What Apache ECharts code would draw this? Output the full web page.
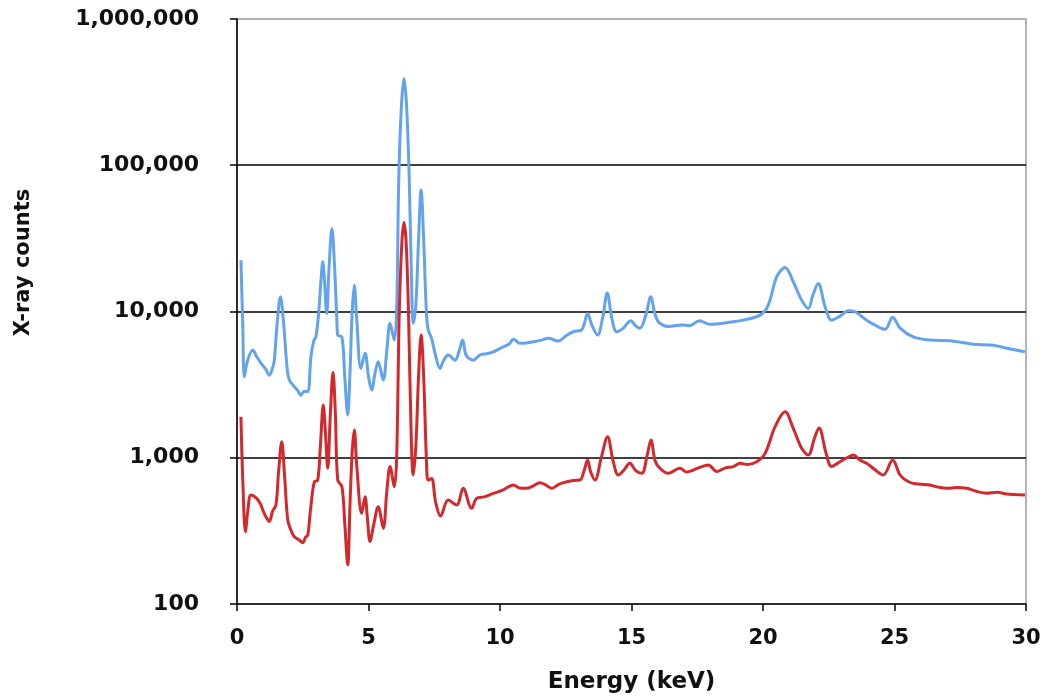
<!DOCTYPE html>
<html>
<head>
<meta charset="utf-8">
<script src="https://cdn.jsdelivr.net/npm/echarts@6/dist/echarts.min.js"></script>
<style>
html,body{margin:0;padding:0;background:#fff;}
#chart{width:1047px;height:700px;}
</style>
</head>
<body>
<div id="chart"></div>
<script>
// Energy (keV) and counts, upper (blue) spectrum
const energyBlue = [0.15,0.22,0.28,0.4,0.6,0.75,0.91,1.1,1.23,1.35,1.42,1.52,1.65,1.78,1.9,1.99,2.18,2.3,2.43,2.55,2.69,2.81,2.92,3.0,3.1,3.2,3.26,3.33,3.41,3.5,3.61,3.7,3.8,3.83,3.99,4.1,4.21,4.3,4.38,4.46,4.55,4.71,4.87,5.0,5.12,5.25,5.37,5.56,5.7,5.82,5.98,6.07,6.15,6.25,6.35,6.45,6.55,6.64,6.7,6.8,6.9,7.0,7.1,7.2,7.27,7.4,7.55,7.72,7.85,8.03,8.29,8.45,8.58,8.72,8.99,9.24,9.5,9.75,10.13,10.35,10.51,10.76,11.0,11.27,11.55,11.84,12.22,12.5,12.79,13.1,13.2,13.33,13.5,13.71,13.9,14.08,14.25,14.44,14.69,14.97,15.15,15.32,15.55,15.73,15.9,16.05,16.4,16.91,17.22,17.58,17.98,18.62,19.25,19.89,20.2,20.52,20.84,21.15,21.47,21.72,21.9,22.1,22.36,22.61,22.93,23.25,23.5,23.94,24.3,24.64,24.93,25.21,25.71,26.35,27.11,28.0,28.76,29.27,29.96];
const countsBlue = [22400,8000,3580,4600,5450,4900,4440,4000,3670,4100,4650,8000,12600,8000,4200,3400,3060,2900,2680,2850,2830,4900,6300,6710,9500,17000,21900,16000,9700,20000,37000,22000,8500,6900,6700,3500,1960,4000,10000,15100,9000,4080,5180,3600,2900,3800,4530,3400,5500,8300,6380,10000,80000,250000,392000,250000,80000,15000,8300,11000,30000,67600,30000,10000,7470,6550,5000,4080,4600,5040,4650,5400,6380,5000,4650,5040,5150,5300,5740,6000,6450,6060,6100,6210,6350,6550,6280,6800,7270,7470,8200,9700,8000,6900,9000,13400,9000,7270,7700,8650,8000,7680,9500,12600,9500,8390,7890,8080,8000,8650,8170,8390,8730,9440,11060,17260,20000,15970,11960,10500,13000,15540,10790,8730,9300,10120,9960,8730,8000,7550,9120,7700,6710,6380,6310,5980,5880,5600,5300];

// Lower (red) spectrum
const energyRed = [0.15,0.22,0.32,0.42,0.53,0.75,0.91,1.0,1.1,1.23,1.35,1.48,1.58,1.7,1.82,1.93,2.05,2.18,2.35,2.5,2.6,2.69,2.8,2.94,3.07,3.17,3.28,3.36,3.45,3.55,3.65,3.74,3.83,3.99,4.1,4.21,4.3,4.38,4.46,4.55,4.74,4.87,4.95,5.06,5.2,5.37,5.56,5.7,5.82,5.98,6.07,6.17,6.27,6.35,6.43,6.52,6.62,6.7,6.8,6.9,7.0,7.1,7.2,7.27,7.4,7.55,7.74,8.03,8.35,8.6,8.92,9.11,9.4,9.75,10.1,10.51,10.75,11.01,11.25,11.52,11.75,11.97,12.25,12.54,12.8,13.04,13.2,13.33,13.45,13.61,13.85,14.09,14.3,14.5,14.7,14.94,15.15,15.39,15.6,15.74,15.9,16.08,16.4,16.84,17.1,17.35,17.6,17.92,18.24,18.55,18.87,19.13,19.4,19.76,20.08,20.46,20.84,21.15,21.47,21.72,21.95,22.13,22.4,22.61,22.93,23.2,23.43,23.7,23.94,24.25,24.57,24.93,25.21,25.45,25.71,26.0,26.35,26.65,26.98,27.35,27.74,28.1,28.5,28.9,29.27,29.6,29.96];
const countsRed = [1906,700,312,450,556,527,475,430,395,366,430,475,800,1285,700,375,320,288,275,262,285,296,450,685,704,1200,2290,1500,848,2000,3850,2000,704,634,350,185,500,1100,1545,900,417,542,400,267,350,463,330,600,870,634,1000,10000,30000,40600,30000,10000,1500,762,1200,3500,6900,3500,1000,704,722,500,400,514,475,618,451,527,540,571,600,651,620,618,640,675,650,618,660,685,700,704,820,964,800,704,1000,1393,950,762,820,916,820,782,1050,1321,950,848,782,848,800,824,860,891,806,850,870,916,900,940,1072,1630,2060,1590,1160,1043,1350,1600,1072,870,940,1000,1043,960,916,830,762,964,762,700,668,660,651,630,618,625,618,590,571,580,565,560,556];

// Tick labels
const yTickValues = [100, 1000, 10000, 100000, 1000000];
const yTickLabels = ['100', '1,000', '10,000', '100,000', '1,000,000'];
const xTitle = 'Energy (keV)';
const yTitle = 'X-ray counts';

function pairs(xs, ys) { return xs.map((x, i) => [x, ys[i]]); }

const fontFamily = '"DejaVu Sans", Verdana, sans-serif';
const chart = echarts.init(document.getElementById('chart'));
chart.setOption({
  backgroundColor: '#ffffff',
  animation: false,
  grid: {
    left: 237, right: 21, top: 19, bottom: 96,
    show: true, borderColor: '#9a9a9a', borderWidth: 1.5, backgroundColor: 'transparent'
  },
  xAxis: {
    type: 'value', min: 0, max: 30, interval: 5,
    name: xTitle, nameLocation: 'middle', nameGap: 67,
    nameTextStyle: { fontFamily, fontWeight: 'bold', fontSize: 23, color: '#111' },
    axisLine: { show: true, lineStyle: { color: '#000', width: 1.5 } },
    axisTick: { show: true, inside: false, length: 7, lineStyle: { color: '#000', width: 1.5 } },
    axisLabel: { fontFamily, fontWeight: 'bold', fontSize: 21, color: '#111', margin: 24 },
    splitLine: { show: false }
  },
  yAxis: {
    type: 'log', logBase: 10, min: 100, max: 1000000,
    name: yTitle, nameLocation: 'middle', nameGap: 203,
    nameTextStyle: { fontFamily, fontWeight: 'bold', fontSize: 21, color: '#111', padding: [0, 0, 0, 98] },
    axisLine: { show: true, lineStyle: { color: '#000', width: 1.5 } },
    axisTick: { show: true, inside: false, length: 7, lineStyle: { color: '#000', width: 1.5 } },
    axisLabel: {
      fontFamily, fontWeight: 'bold', fontSize: 22, color: '#111', margin: 38,
      formatter: function (v) {
        const i = yTickValues.findIndex(t => Math.abs(t - v) / t < 1e-6);
        return i >= 0 ? yTickLabels[i] : '';
      }
    },
    splitLine: { show: true, showMaxLine: false, showMinLine: false, lineStyle: { color: '#000', width: 1.5 } },
    minorTick: { show: false }
  },
  series: [
    {
      name: 'Upper spectrum', type: 'line', data: pairs(energyBlue, countsBlue),
      showSymbol: false, smooth: 0.35, lineStyle: { color: '#62a3ee', width: 3 }, z: 2
    },
    {
      name: 'Lower spectrum', type: 'line', data: pairs(energyRed, countsRed),
      showSymbol: false, smooth: 0.35, lineStyle: { color: '#d3282c', width: 3 }, z: 3
    }
  ]
});
</script>
</body>
</html>
